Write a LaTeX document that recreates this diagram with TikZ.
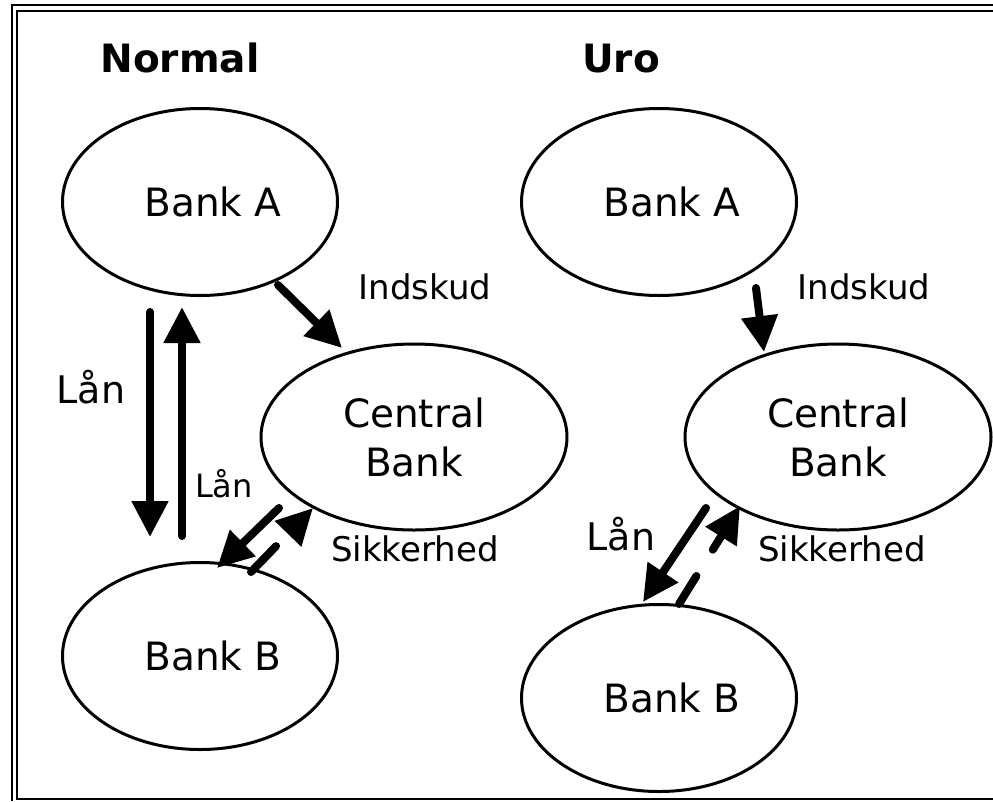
\documentclass[tikz,border=0pt]{standalone}
\usepackage{fontspec}
\setmainfont{DejaVu Sans}
\usetikzlibrary{shapes.geometric,arrows.meta}
\begin{document}
\begin{tikzpicture}[x=1pt,y=-1pt,
  bank/.style={ellipse,draw,line width=3pt,inner sep=0pt,minimum width=275pt,minimum height=187pt,font=\fontsize{39}{49}\selectfont},
  cbank/.style={bank,align=center,minimum width=306pt,minimum height=186pt},
  lbl/.style={font=\fontsize{34}{40}\selectfont,anchor=base,inner sep=0pt},
  biglbl/.style={lbl,font=\fontsize{38}{44}\selectfont},
  smalllbl/.style={lbl,font=\fontsize{32}{38}\selectfont},
  ttl/.style={font=\fontsize{39}{46}\selectfont\bfseries,anchor=base,inner sep=0pt},
  flow/.style={line width=8pt,line cap=round,-{Triangle[length=36pt,width=35pt]}},
  frameline/.style={line width=2.5pt}]
\useasboundingbox (0,0) rectangle (993,801);
% frame
\coordinate (fo1) at (12,801);
\coordinate (fo2) at (12,5);
\coordinate (fo3) at (993,5);
\coordinate (fi1) at (17,799);
\coordinate (fi2) at (17,11);
\coordinate (fi3) at (993,11);
\coordinate (fi4) at (993,799);
\draw[frameline] (fo1) -- (fo2) -- (fo3);
\draw[frameline] (fi3) -- (fi2) -- (fi1) -- (fi4);
% titles
\node[ttl] (tN) at (180,72) {Normal};
\node[ttl] (tU) at (621,72) {Uro};
% ellipses
\node[bank] (aL) at (200,202) {\hspace*{26pt}Bank A};
\node[bank] (aR) at (659,202) {\hspace*{26pt}Bank A};
\node[cbank] (cL) at (414,437) {Central\\Bank};
\node[cbank] (cR) at (838,437) {Central\\Bank};
\node[bank] (bL) at (200,656) {\hspace*{26pt}Bank B};
\node[bank] (bR) at (659,698) {\hspace*{26pt}Bank B};
% labels
\node[lbl] (iL) at (425,299) {Indskud};
\node[lbl] (iR) at (864,299) {Indskud};
\node[biglbl] (l1) at (91,403) {Lån};
\node[smalllbl] (l2) at (224,497) {Lån};
\node[lbl] (sL) at (415,561) {Sikkerhed};
\node[biglbl] (l3) at (621,550) {Lån};
\node[lbl] (sR) at (842,561) {Sikkerhed};
% arrow end points
\coordinate (dn1) at (150,312);
\coordinate (dn2) at (150,537);
\coordinate (up1) at (182,536);
\coordinate (up2) at (182,307);
\coordinate (inL1) at (278,285);
\coordinate (inL2) at (342,348);
\coordinate (inR1) at (756,288);
\coordinate (inR2) at (764,352);
\coordinate (lnL1) at (279,508);
\coordinate (lnL2) at (217,568);
\coordinate (skL1) at (251,572);
\coordinate (skL2) at (313,508);
\coordinate (lnR1) at (706,508);
\coordinate (lnR2) at (643,602);
\coordinate (skR1) at (679,604);
\coordinate (skR2) at (740,506);
% arrows
\draw[flow] (dn1) -- (dn2);
\draw[flow] (up1) -- (up2);
\draw[flow] (inL1) -- (inL2);
\draw[flow] (inR1) -- (inR2);
\draw[flow] (lnL1) -- (lnL2);
\draw[flow,dash pattern=on 36pt off 80pt] (skL1) -- (skL2);
\draw[flow] (lnR1) -- (lnR2);
\draw[flow,dash pattern=on 33pt off 31pt on 100pt] (skR1) -- (skR2);
\end{tikzpicture}
\end{document}
